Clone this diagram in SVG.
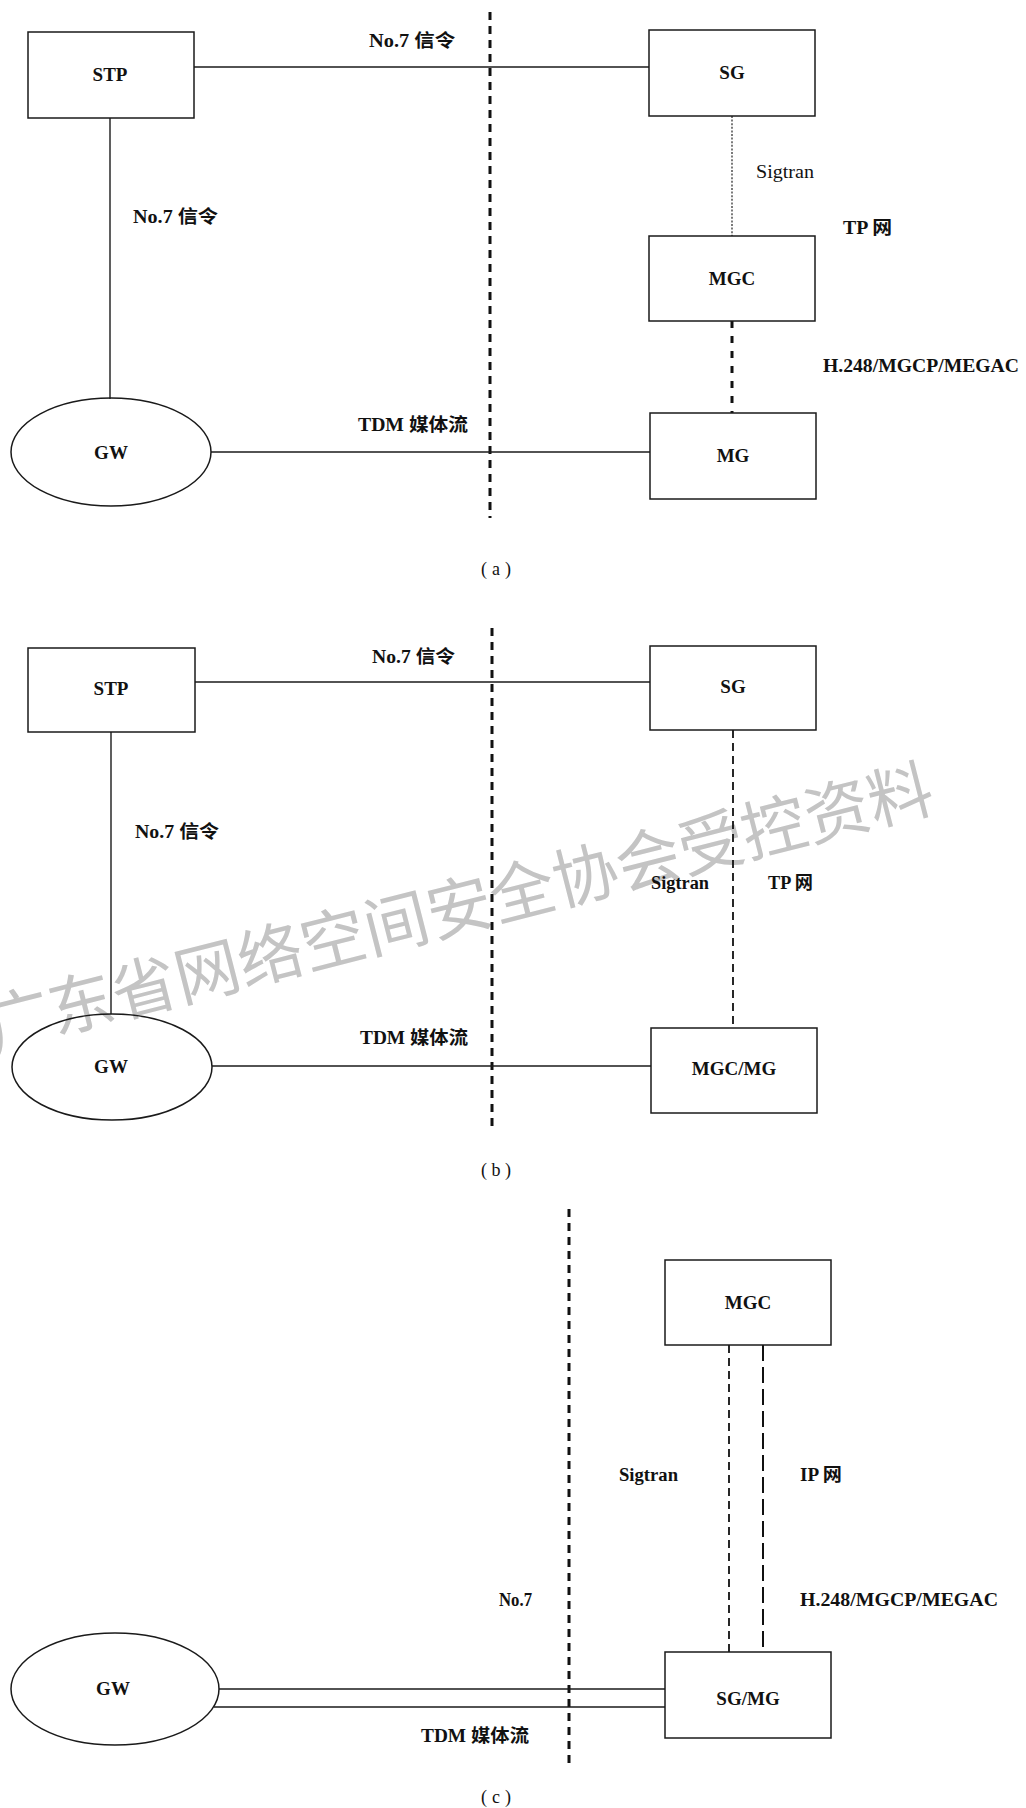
<svg xmlns="http://www.w3.org/2000/svg" width="1026" height="1808" viewBox="0 0 1026 1808">
<style>
.box{fill:none;stroke:#1a1a1a;stroke-width:1.5}
.ln{fill:none;stroke:#1a1a1a;stroke-width:1.4}
.div{fill:none;stroke:#111;stroke-width:3;stroke-dasharray:8 6}
.dot{fill:none;stroke:#222;stroke-width:1.2;stroke-dasharray:2 1.6}
.tdash{fill:none;stroke:#111;stroke-width:3;stroke-dasharray:7 8}
.dash{fill:none;stroke:#111;stroke-width:1.8;stroke-dasharray:8 5}
.dash2{fill:none;stroke:#111;stroke-width:2;stroke-dasharray:16 6}
.t{font-family:"Liberation Serif","Noto Sans CJK SC",serif;font-size:18px;font-weight:bold;fill:#111}
.n{font-family:"Liberation Serif",serif;font-size:19px;font-weight:bold;fill:#111;text-anchor:middle}
.c{text-anchor:middle}
.r{font-weight:normal}
.wm{font-family:"Noto Sans CJK SC",sans-serif;font-size:65px;font-weight:400;fill:#c4c4c4}
</style>
<rect x="0" y="0" width="1026" height="1808" fill="#fff"/>
<g id="watermark">
<text class="wm" x="458" y="903" text-anchor="middle" dominant-baseline="central" transform="rotate(-14.3 458 903)">广东省网络空间安全协会受控资料</text>
</g>
<g id="connectors">
<line class="div" x1="490" y1="12" x2="490" y2="518"/>
<line class="ln" x1="194" y1="67" x2="649" y2="67"/>
<line class="ln" x1="110" y1="118" x2="110" y2="399"/>
<line class="ln" x1="211" y1="452" x2="650" y2="452"/>
<line class="dot" x1="732" y1="116" x2="732" y2="236"/>
<line class="tdash" x1="732" y1="321" x2="732" y2="413"/>
<line class="div" x1="492" y1="628" x2="492" y2="1132"/>
<line class="ln" x1="195" y1="682" x2="650" y2="682"/>
<line class="ln" x1="111" y1="732" x2="111" y2="1014"/>
<line class="ln" x1="212" y1="1066" x2="651" y2="1066"/>
<line class="dash" x1="733" y1="730" x2="733" y2="1028"/>
<line class="div" x1="569" y1="1209" x2="569" y2="1764"/>
<line class="ln" x1="219" y1="1689" x2="665" y2="1689"/>
<line class="ln" x1="214" y1="1707" x2="665" y2="1707"/>
<line class="dash" x1="729" y1="1345" x2="729" y2="1652"/>
<line class="dash2" x1="763" y1="1345" x2="763" y2="1652"/>
</g>
<g id="labels">
<text class="t" x="369" y="47" textLength="86" lengthAdjust="spacingAndGlyphs">No.7 信令</text>
<text class="t" x="133" y="223" textLength="85" lengthAdjust="spacingAndGlyphs">No.7 信令</text>
<text class="t" x="358" y="431" textLength="110" lengthAdjust="spacingAndGlyphs">TDM 媒体流</text>
<text class="t r" x="756" y="178" textLength="58" lengthAdjust="spacingAndGlyphs">Sigtran</text>
<text class="t" x="843" y="234" textLength="49" lengthAdjust="spacingAndGlyphs">TP 网</text>
<text class="t" x="823" y="372" textLength="196" lengthAdjust="spacingAndGlyphs">H.248/MGCP/MEGAC</text>
<text class="t r c" x="496" y="575" textLength="30" lengthAdjust="spacing">(a)</text>
<text class="t" x="372" y="663" textLength="83" lengthAdjust="spacingAndGlyphs">No.7 信令</text>
<text class="t" x="135" y="838" textLength="84" lengthAdjust="spacingAndGlyphs">No.7 信令</text>
<text class="t" x="360" y="1044" textLength="108" lengthAdjust="spacingAndGlyphs">TDM 媒体流</text>
<text class="t" x="651" y="889" textLength="58" lengthAdjust="spacingAndGlyphs">Sigtran</text>
<text class="t" x="768" y="889" textLength="45" lengthAdjust="spacingAndGlyphs">TP 网</text>
<text class="t r c" x="496" y="1176" textLength="30" lengthAdjust="spacing">(b)</text>
<text class="t" x="619" y="1481" textLength="59" lengthAdjust="spacingAndGlyphs">Sigtran</text>
<text class="t" x="800" y="1481" textLength="42" lengthAdjust="spacingAndGlyphs">IP 网</text>
<text class="t" x="800" y="1606" textLength="198" lengthAdjust="spacingAndGlyphs">H.248/MGCP/MEGAC</text>
<text class="t" x="499" y="1606" textLength="33" lengthAdjust="spacingAndGlyphs">No.7</text>
<text class="t" x="421" y="1742" textLength="108" lengthAdjust="spacingAndGlyphs">TDM 媒体流</text>
<text class="t r c" x="496" y="1803" textLength="30" lengthAdjust="spacing">(c)</text>
</g>
<g id="a-stp"><rect class="box" x="28" y="32" width="166" height="86"/><text class="n" x="110" y="81">STP</text></g>
<g id="a-sg"><rect class="box" x="649" y="30" width="166" height="86"/><text class="n" x="732" y="79">SG</text></g>
<g id="a-mgc"><rect class="box" x="649" y="236" width="166" height="85"/><text class="n" x="732" y="285">MGC</text></g>
<g id="a-mg"><rect class="box" x="650" y="413" width="166" height="86"/><text class="n" x="733" y="462">MG</text></g>
<g id="a-gw"><ellipse class="box" cx="111" cy="452" rx="100" ry="54"/><text class="n" x="111" y="459">GW</text></g>
<g id="b-stp"><rect class="box" x="28" y="648" width="167" height="84"/><text class="n" x="111" y="695">STP</text></g>
<g id="b-sg"><rect class="box" x="650" y="646" width="166" height="84"/><text class="n" x="733" y="693">SG</text></g>
<g id="b-mgcmg"><rect class="box" x="651" y="1028" width="166" height="85"/><text class="n" x="734" y="1075">MGC/MG</text></g>
<g id="b-gw"><ellipse class="box" cx="112" cy="1067" rx="100" ry="53"/><text class="n" x="111" y="1073">GW</text></g>
<g id="c-mgc"><rect class="box" x="665" y="1260" width="166" height="85"/><text class="n" x="748" y="1309">MGC</text></g>
<g id="c-sgmg"><rect class="box" x="665" y="1652" width="166" height="86"/><text class="n" x="748" y="1705">SG/MG</text></g>
<g id="c-gw"><ellipse class="box" cx="115" cy="1689" rx="104" ry="56"/><text class="n" x="113" y="1695">GW</text></g>
</svg>
